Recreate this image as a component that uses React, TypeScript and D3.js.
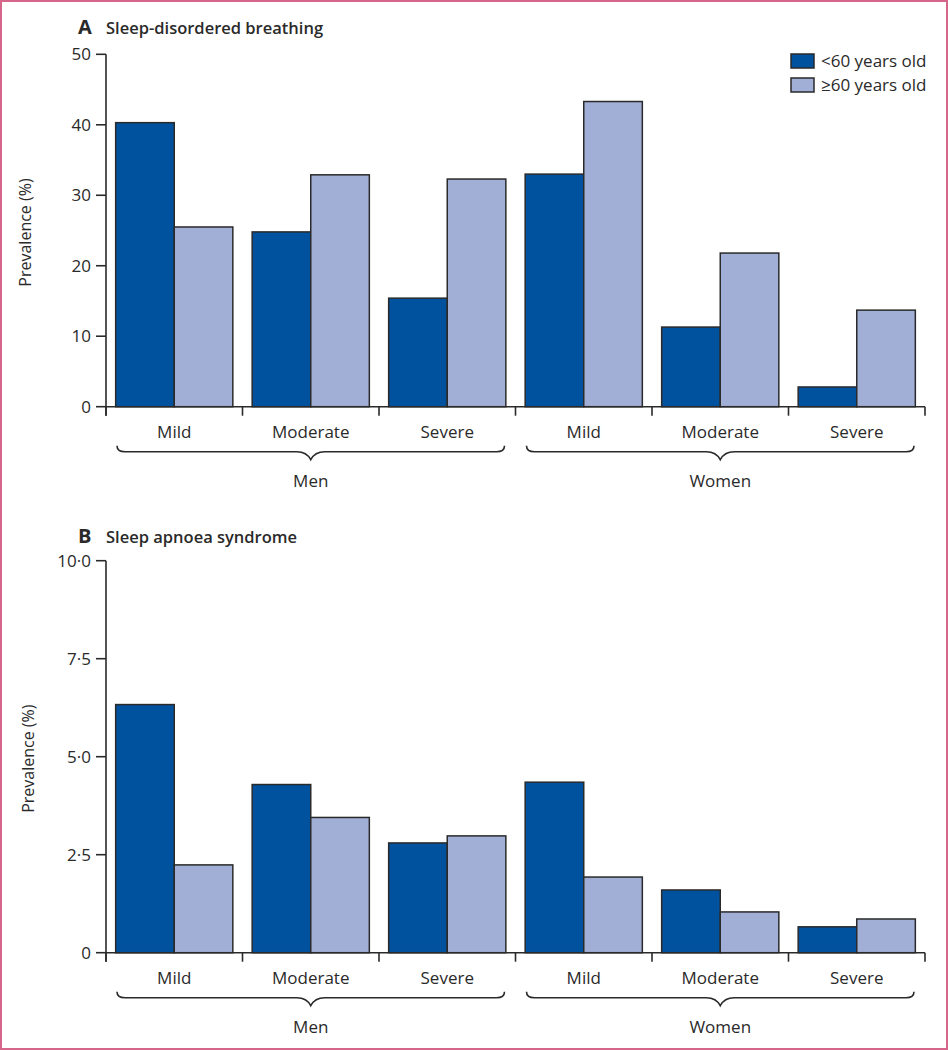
import React from "react";
import * as d3 from "d3";

const categories = ["Mild", "Moderate", "Severe", "Mild", "Moderate", "Severe"];
const groups = ["Men", "Women"];
const seriesNames = ["<60 years old", "≥60 years old"];

const sdbYounger = [40.3, 24.8, 15.4, 33.0, 11.3, 2.8];
const sdbOlder = [25.5, 32.9, 32.3, 43.3, 21.8, 13.7];
const sasYounger = [6.33, 4.29, 2.8, 4.35, 1.6, 0.66];
const sasOlder = [2.24, 3.45, 2.98, 1.93, 1.04, 0.86];

const sdbTicks = [0, 10, 20, 30, 40, 50];
const sdbTickLabels = ["0", "10", "20", "30", "40", "50"];
const sasTicks = [0, 2.5, 5, 7.5, 10];
const sasTickLabels = ["0", "2·5", "5·0", "7·5", "10·0"];

const DARK = "#00529f";
const LIGHT = "#a1aed6";
const INK = "#2a2a2a";
const FONT = "'Open Sans', 'DejaVu Sans', sans-serif";
const colors = [DARK, LIGHT];

type PanelProps = {
  letter: string;
  title: string;
  titleY: number;
  younger: number[];
  older: number[];
  ymax: number;
  ticks: number[];
  tickLabels: string[];
  y0: number;
  y1: number;
  ylabelX: number;
};

function Panel(p: PanelProps) {
  const x = d3.scaleBand<number>().domain(d3.range(categories.length)).range([106, 925]).padding(0);
  const inner = d3.scaleBand<number>().domain([0, 1]).range([0, x.bandwidth()]).paddingOuter(0.165).paddingInner(0);
  const y = d3.scaleLinear().domain([0, p.ymax]).range([p.y0, p.y1]);
  const values = [p.younger, p.older];
  const axisY = p.y0;
  const braceLine = axisY + 45;

  const bracePath = (x1: number, x2: number) => {
    const mid = (x1 + x2) / 2;
    const yT = braceLine - 6;
    const yL = braceLine;
    const yP = braceLine + 8;
    return `M${x1},${yT} Q${x1},${yL} ${x1 + 8},${yL} L${mid - 14},${yL} Q${mid - 4},${yL} ${mid},${yP} Q${mid + 4},${yL} ${mid + 14},${yL} L${x2 - 8},${yL} Q${x2},${yL} ${x2},${yT}`;
  };

  return (
    <g>
      <text x={78} y={p.titleY} fontFamily={FONT} fontWeight={700} fontSize={20} fill={INK}>
        {p.letter}
      </text>
      <text x={106} y={p.titleY} fontFamily={FONT} fontWeight={600} fontSize={16.5} fill={INK}>
        {p.title}
      </text>
      {values.map((vals, s) =>
        vals.map((v, i) => (
          <rect
            key={`${s}-${i}`}
            x={(x(i) as number) + (inner(s) as number)}
            y={y(v)}
            width={inner.bandwidth()}
            height={y(0) - y(v)}
            fill={colors[s]}
            stroke={INK}
            strokeWidth={1.5}
          />
        ))
      )}
      {/* y axis */}
      <line x1={106} x2={106} y1={y(p.ymax)} y2={axisY + 9} stroke={INK} strokeWidth={1.6} />
      {p.ticks.map((t, i) => (
        <g key={t}>
          <line x1={96} x2={106} y1={y(t)} y2={y(t)} stroke={INK} strokeWidth={1.6} />
          <text x={91} y={y(t)} dy="0.36em" textAnchor="end" fontFamily={FONT} fontSize={17} fill={INK}>
            {p.tickLabels[i]}
          </text>
        </g>
      ))}
      <text
        transform={`translate(${p.ylabelX},${(y(0) + y(p.ymax)) / 2 + 2}) rotate(-90)`}
        textAnchor="middle"
        dy="0.35em"
        fontFamily={FONT}
        fontSize={16}
        fill={INK}
      >
        Prevalence (%)
      </text>
      {/* x axis */}
      <line x1={106} x2={925} y1={axisY} y2={axisY} stroke={INK} strokeWidth={1.6} />
      {d3.range(categories.length + 1).map((i) => {
        const xx = i < categories.length ? (x(i) as number) : 925;
        return <line key={i} x1={xx} x2={xx} y1={axisY} y2={axisY + 9} stroke={INK} strokeWidth={1.6} />;
      })}
      {categories.map((c, i) => (
        <text
          key={i}
          x={(x(i) as number) + x.bandwidth() / 2}
          y={axisY + 25}
          dy="0.35em"
          textAnchor="middle"
          fontFamily={FONT}
          fontSize={17}
          fill={INK}
        >
          {c}
        </text>
      ))}
      {groups.map((g, gi) => {
        const gx1 = x(gi * 3) as number;
        const gx2 = gi * 3 + 3 < categories.length ? (x(gi * 3 + 3) as number) : 925;
        return (
          <g key={g}>
            <path d={bracePath(gx1 + 11, gx2 - 11)} fill="none" stroke={INK} strokeWidth={1.6} />
            <text
              x={(gx1 + gx2) / 2}
              y={axisY + 74}
              dy="0.35em"
              textAnchor="middle"
              fontFamily={FONT}
              fontSize={17}
              fill={INK}
            >
              {g}
            </text>
          </g>
        );
      })}
    </g>
  );
}

export default function App() {
  return (
    <svg
      width={948}
      height={1050}
      viewBox="0 0 948 1050"
      style={{ position: "absolute", left: 0, top: 0, display: "block", background: "#fff" }}
    >
      <rect x={0} y={0} width={948} height={1050} fill="#fff" />
      <rect x={1} y={1} width={946} height={1048} fill="none" stroke="#d6668a" strokeWidth={2} />
      <Panel
        letter="A"
        title="Sleep-disordered breathing"
        titleY={34}
        younger={sdbYounger}
        older={sdbOlder}
        ymax={50}
        ticks={sdbTicks}
        tickLabels={sdbTickLabels}
        y0={406.7}
        y1={54.3}
        ylabelX={25}
      />
      <Panel
        letter="B"
        title="Sleep apnoea syndrome"
        titleY={543}
        younger={sasYounger}
        older={sasOlder}
        ymax={10}
        ticks={sasTicks}
        tickLabels={sasTickLabels}
        y0={952.7}
        y1={560.7}
        ylabelX={28}
      />
      {/* legend */}
      {seriesNames.map((s, i) => (
        <g key={s}>
          <rect x={791} y={54 + i * 24} width={23} height={14} fill={colors[i]} stroke={INK} strokeWidth={1.5} />
          <text x={821} y={61 + i * 24} dy="0.36em" fontFamily={FONT} fontSize={17} fill={INK}>
            {s}
          </text>
        </g>
      ))}
    </svg>
  );
}
